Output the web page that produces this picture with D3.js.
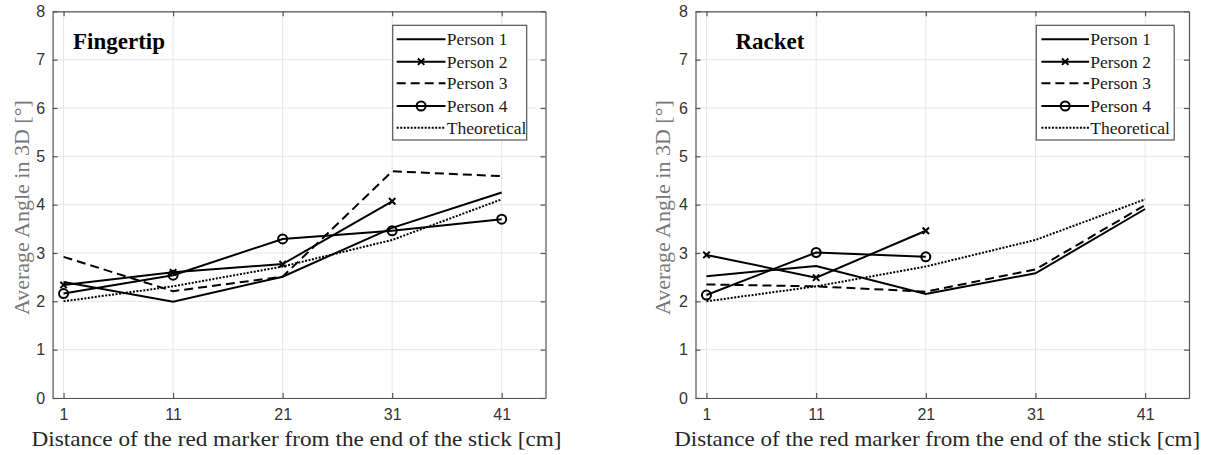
<!DOCTYPE html>
<html>
<head>
<meta charset="utf-8">
<script src="https://cdn.jsdelivr.net/npm/d3@7"></script>
<style>
body { margin: 0; background: #fff; }
svg { display: block; }
</style>
</head>
<body>
<svg id="chart" width="1212" height="455"></svg>
<script>
// distances along the stick [cm]
var distances = [1, 11, 21, 31, 41];
var xTicks = [1, 11, 21, 31, 41];
var yTicks = [0, 1, 2, 3, 4, 5, 6, 7, 8];
var seriesNames = ["Person 1", "Person 2", "Person 3", "Person 4", "Theoretical"];

// fingertip panel
var fingerP1 = [2.40, 1.99, 2.51, 3.52, 4.25];
var fingerP2 = [2.34, 2.60, 2.77, 4.07];
var fingerP3 = [2.92, 2.21, 2.51, 4.69, 4.59];
var fingerP4 = [2.16, 2.54, 3.29, 3.46, 3.70];

// racket panel
var racketP1 = [2.52, 2.73, 2.15, 2.58, 3.91];
var racketP2 = [2.96, 2.49, 3.46];
var racketP3 = [2.35, 2.31, 2.20, 2.66, 3.99];
var racketP4 = [2.13, 3.01, 2.92];

// theoretical curve, same for both
var theoretical = [2.00, 2.31, 2.72, 3.27, 4.11];

var styles = [
	{dash: null, marker: null},
	{dash: null, marker: "x"},
	{dash: "9,5", marker: null},
	{dash: null, marker: "o"},
	{dash: "2,1.5", marker: null}
];

var serif = "Liberation Serif, Times New Roman, serif";
var svg = d3.select("#chart");

drawPanel({
	title: "Fingertip", titleX: 73,
	left: 52.6, right: 545.5, top: 11.3, bottom: 398,
	ylabelX: 21.5, xlabelX: 31.5, xlabelW: 530,
	legend: {x0: 392.7, x1: 526.7, lineX0: 396.7, lineX1: 445.5, textX: 446.7},
	series: [fingerP1, fingerP2, fingerP3, fingerP4, theoretical]
});
drawPanel({
	title: "Racket", titleX: 735.5,
	left: 695.5, right: 1189, top: 11.3, bottom: 398,
	ylabelX: 662.5, xlabelX: 674.2, xlabelW: 526,
	legend: {x0: 1036.3, x1: 1174.2, lineX0: 1041.4, lineX1: 1089, textX: 1090.2},
	series: [racketP1, racketP2, racketP3, racketP4, theoretical]
});

function drawPanel(p){
	var x = d3.scaleLinear().domain([0, 45]).range([p.left, p.right]);
	var y = d3.scaleLinear().domain([0, 8]).range([p.bottom, p.top]);
	var g = svg.append("g");

	// grid
	g.selectAll(".vgrid").data(xTicks).enter()
		.append("line")
		.attr("x1", function(d){ return x(d); }).attr("x2", function(d){ return x(d); })
		.attr("y1", p.top).attr("y2", p.bottom)
		.attr("stroke", "#e6e6e6").attr("stroke-width", 1);
	g.selectAll(".hgrid").data(yTicks).enter()
		.append("line")
		.attr("y1", function(d){ return y(d); }).attr("y2", function(d){ return y(d); })
		.attr("x1", p.left).attr("x2", p.right)
		.attr("stroke", "#e6e6e6").attr("stroke-width", 1);

	// axes (ticks pointing inward, box on)
	var axB = g.append("g").attr("transform", "translate(0," + p.bottom + ")")
		.call(d3.axisBottom(x).tickValues(xTicks).tickSizeInner(-5).tickSizeOuter(0).tickPadding(11));
	var axL = g.append("g").attr("transform", "translate(" + p.left + ",0)")
		.call(d3.axisLeft(y).tickValues(yTicks).tickSizeInner(-5).tickSizeOuter(0).tickPadding(7.5));
	var axT = g.append("g").attr("transform", "translate(0," + p.top + ")")
		.call(d3.axisTop(x).tickValues(xTicks).tickSizeInner(-5).tickSizeOuter(0).tickFormat(""));
	var axR = g.append("g").attr("transform", "translate(" + p.right + ",0)")
		.call(d3.axisRight(y).tickValues(yTicks).tickSizeInner(-5).tickSizeOuter(0).tickFormat(""));
	[axB, axL, axT, axR].forEach(function(a){
		a.attr("font-family", "Liberation Sans, Arial, sans-serif").attr("font-size", 16);
		a.selectAll("path, line").attr("stroke", "#555").attr("stroke-width", 1.2);
		a.selectAll("text").attr("fill", "#333");
	});

	// lines
	var line = d3.line().x(function(d){ return x(d[0]); }).y(function(d){ return y(d[1]); });
	p.series.forEach(function(vals, i){
		var pts = vals.map(function(v, j){ return [distances[j], v]; });
		g.append("path").datum(pts)
			.attr("d", line)
			.attr("fill", "none")
			.attr("stroke", "#000")
			.attr("stroke-width", 2)
			.attr("stroke-dasharray", styles[i].dash);
		if(styles[i].marker){
			pts.forEach(function(d){
				drawMarker(g, styles[i].marker, x(d[0]), y(d[1]));
			});
		}
	});

	// title
	g.append("text")
		.attr("x", p.titleX).attr("y", 49)
		.attr("font-family", serif)
		.attr("font-weight", "bold")
		.attr("font-size", 23)
		.attr("fill", "#000")
		.text(p.title);

	// legend
	var L = p.legend;
	var rowY = [39.3, 61.7, 83.3, 106, 127.7];
	g.append("rect")
		.attr("x", L.x0).attr("y", 25.3)
		.attr("width", L.x1 - L.x0).attr("height", 140 - 25.3)
		.attr("fill", "#fff").attr("stroke", "#555").attr("stroke-width", 1.2);
	seriesNames.forEach(function(name, i){
		g.append("line")
			.attr("x1", L.lineX0).attr("x2", L.lineX1)
			.attr("y1", rowY[i]).attr("y2", rowY[i])
			.attr("stroke", "#000").attr("stroke-width", 2)
			.attr("stroke-dasharray", styles[i].dash);
		if(styles[i].marker) drawMarker(g, styles[i].marker, (L.lineX0 + L.lineX1) / 2, rowY[i]);
		g.append("text")
			.attr("x", L.textX).attr("y", rowY[i] + 6)
			.attr("font-family", serif)
			.attr("font-size", 17.5)
			.attr("fill", "#1a1a1a")
			.text(name);
	});

	// axis labels
	g.append("text")
		.attr("transform", "translate(" + p.ylabelX + "," + ((p.top + p.bottom) / 2 + 3) + ") rotate(-90)")
		.attr("text-anchor", "middle")
		.attr("dy", "0.35em")
		.attr("font-family", serif)
		.attr("font-size", 22)
		.attr("fill", "#777")
		.text("Average Angle in 3D [°]");
	g.append("text")
		.attr("x", p.xlabelX).attr("y", 446)
		.attr("textLength", p.xlabelW)
		.attr("lengthAdjust", "spacingAndGlyphs")
		.attr("font-family", serif)
		.attr("font-size", 22)
		.attr("fill", "#262626")
		.text("Distance of the red marker from the end of the stick [cm]");
}

function drawMarker(g, type, cx, cy){
	if(type == "o"){
		g.append("circle")
			.attr("cx", cx).attr("cy", cy).attr("r", 4.5)
			.attr("fill", "none").attr("stroke", "#000").attr("stroke-width", 2);
	}
	else {
		var s = 3.2;
		g.append("path")
			.attr("d", "M" + (cx - s) + "," + (cy - s) + "L" + (cx + s) + "," + (cy + s) +
				"M" + (cx - s) + "," + (cy + s) + "L" + (cx + s) + "," + (cy - s))
			.attr("stroke", "#000").attr("stroke-width", 2);
	}
}
</script>
</body>
</html>
